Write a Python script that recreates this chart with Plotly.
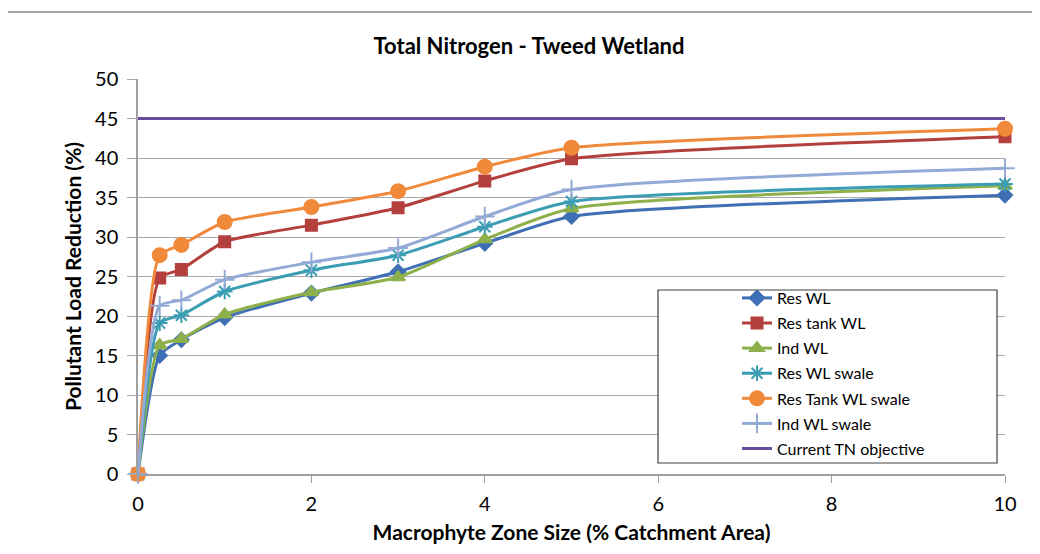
import plotly.graph_objects as go

x_vals = [0, 0.25, 0.5, 1, 2, 3, 4, 5, 10]
res_wl = [0, 15.0, 17.0, 19.8, 22.9, 25.6, 29.2, 32.6, 35.3]
res_tank_wl = [0, 24.8, 25.9, 29.4, 31.5, 33.7, 37.1, 39.9, 42.7]
ind_wl = [0, 16.3, 17.1, 20.2, 23.0, 24.9, 29.7, 33.6, 36.5]
res_wl_swale = [0, 19.1, 20.1, 23.1, 25.8, 27.7, 31.3, 34.5, 36.7]
res_tank_wl_swale = [0, 27.7, 29.0, 31.9, 33.8, 35.8, 38.9, 41.3, 43.7]
ind_wl_swale = [0, 21.3, 22.0, 24.6, 26.8, 28.6, 32.6, 36.0, 38.7]
objective_x = [0, 10]
objective_y = [45, 45]

series = [
    ("Res WL", res_wl, "#3F6FB4", "diamond", 11),
    ("Res tank WL", res_tank_wl, "#B3403D", "square", 11),
    ("Ind WL", ind_wl, "#8DB04A", "triangle-up", 12),
    ("Res WL swale", res_wl_swale, "#3A9DB4", "asterisk-open", 13),
    ("Res Tank WL swale", res_tank_wl_swale, "#F08A3A", "circle", 14),
    ("Ind WL swale", ind_wl_swale, "#93AAD6", "cross-thin-open", 14),
]

fig = go.Figure()
for i, (name, ys, col, sym, sz) in enumerate(series):
    fig.add_trace(go.Scatter(
        x=x_vals, y=ys, name=name, mode="lines+markers",
        line=dict(color=col, width=3, shape="spline", smoothing=0.6),
        marker=dict(symbol=sym, size=sz, color=col,
                    line=dict(color=col, width=2)),
        cliponaxis=False, legendgroup=f"g{i}",
    ))
fig.add_trace(go.Scatter(
    x=objective_x, y=objective_y, name="Current TN objective", mode="lines",
    line=dict(color="#6A4C9C", width=3), cliponaxis=False, legendgroup="g7",
))

# page has an 8px body margin: plot area on screen spans x 138-1005, y 79-474
PL, PT, PW, PH = 130, 71, 867, 395

def px_x(sx):
    return (sx - 8 - PL) / PW

def px_y(sy):
    return (PT + PH - (sy - 8)) / PH

fig.add_shape(type="rect", xref="paper", yref="paper",
              x0=px_x(3), x1=1.3, y0=-0.5, y1=px_y(12),
              line=dict(color="#8C8C8C", width=1.5), fillcolor="rgba(0,0,0,0)", layer="below")
fig.add_shape(type="rect", xref="paper", yref="paper",
              x0=px_x(658), x1=px_x(997), y0=px_y(463), y1=px_y(290),
              line=dict(color="#404040", width=1.2), fillcolor="white", layer="above")

fig.update_layout(
    width=1040, height=554,
    margin=dict(l=PL, r=1040 - PL - PW, t=PT, b=554 - PT - PH),
    paper_bgcolor="white", plot_bgcolor="white",
    font=dict(family="Lato, Open Sans, sans-serif", color="#000000"),
    title=dict(text="<b>Total Nitrogen - Tweed Wetland</b>", x=(529 - 8) / 1040, xanchor="center",
               y=1 - (46 - 8) / 554, yanchor="middle", font=dict(size=22, family="Lato")),
    showlegend=True,
    legend=dict(x=px_x(737), y=px_y(281), xanchor="left", yanchor="top",
                bgcolor="rgba(0,0,0,0)", borderwidth=0, tracegroupgap=1.3,
                font=dict(size=16, family="Lato")),
    xaxis=dict(range=[0, 10], dtick=2, tick0=0, showgrid=False, zeroline=False,
               showline=True, linecolor="#A0A0A0", linewidth=1.5,
               ticks="outside", ticklen=7, tickcolor="#A0A0A0", ticklabelstandoff=4,
               tickfont=dict(size=20, family="Lato"),
               title=dict(text="<b>Macrophyte Zone Size (% Catchment Area)</b>",
                          font=dict(size=21, family="Lato"), standoff=12)),
    yaxis=dict(range=[0, 50], dtick=5, tick0=0, showgrid=True, gridcolor="#A8A8A8", gridwidth=1.2,
               zeroline=False, showline=True, linecolor="#A0A0A0", linewidth=1.5,
               ticks="outside", ticklen=9, tickcolor="#A8A8A8", ticklabelstandoff=5,
               tickfont=dict(size=20, family="Lato"),
               title=dict(text="<b>Pollutant Load Reduction (%)</b>",
                          font=dict(size=21, family="Lato"), standoff=8)),
)

fig.write_html("out.html")
